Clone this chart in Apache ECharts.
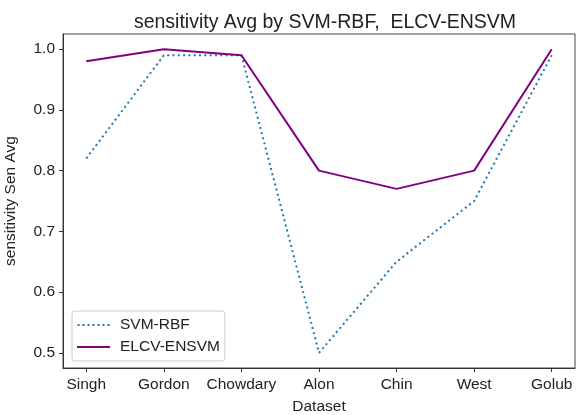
<!DOCTYPE html>
<html><head><meta charset="utf-8">
<script src="https://cdn.jsdelivr.net/npm/echarts@6/dist/echarts.min.js"></script>
<style>html,body{margin:0;padding:0;background:#fff}#c{width:576px;height:415px}</style>
</head><body><div id="c"></div>
<script>
const categories = ["Singh","Gordon","Chowdary","Alon","Chin","West","Golub"];
const svmRbf = [0.82, 0.99, 0.99, 0.50, 0.65, 0.75, 0.99];
const elcvEnsvm = [0.98, 1.00, 0.99, 0.80, 0.77, 0.80, 1.00];
const yTicks = [0.5, 0.6, 0.7, 0.8, 0.9, 1.0];
const xTicks = categories.map((_, i) => i);

const font = "Liberation Sans, Arial, sans-serif";
const dotted = 'path://M0,0h2v2h-2zM5,0h2v2h-2zM10,0h2v2h-2zM15,0h2v2h-2zM20,0h2v2h-2zM25,0h2v2h-2zM30,0h2v2h-2z';
const chart = echarts.init(document.getElementById('c'), null, {renderer:'canvas'});
chart.setOption({
  animation:false,
  title:{text:"sensitivity Avg by SVM-RBF,  ELCV-ENSVM", left:320, textAlign:'center', top:8,
    textStyle:{fontFamily:font, fontSize:19.5, fontWeight:'normal', color:'#222'}},
  grid:{left:63, right:1, top:34, bottom:47, show:true, borderColor:'#444', borderWidth:1,
    containLabel:false, outerBoundsMode:'none'},
  xAxis:{type:'value', min:-0.3, max:6.3, name:'Dataset', nameLocation:'middle', nameGap:31,
    nameTextStyle:{fontFamily:font, fontSize:15.5, color:'#222'},
    axisLine:{show:true, onZero:false, lineStyle:{color:'#333'}}, splitLine:{show:false},
    axisTick:{show:true, customValues:xTicks, length:4, lineStyle:{color:'#333'}},
    axisLabel:{customValues:xTicks, formatter:v=>categories[Math.round(v)], margin:9,
      fontFamily:font, fontSize:15.5, color:'#222'}},
  yAxis:{type:'value', min:0.475, max:1.025, name:'sensitivity Sen Avg', nameLocation:'middle', nameGap:44,
    nameTextStyle:{fontFamily:font, fontSize:15.5, color:'#222'},
    axisLine:{show:true, onZero:false, lineStyle:{color:'#333'}}, splitLine:{show:false},
    axisTick:{show:true, customValues:yTicks, length:4, lineStyle:{color:'#333'}},
    axisLabel:{customValues:yTicks, formatter:v=>v.toFixed(1), margin:8,
      fontFamily:font, fontSize:15.5, color:'#222'}},
  legend:{orient:'vertical', left:72, top:311, itemWidth:33, itemHeight:2, itemGap:6,
    padding:[6,5,6,5], borderColor:'#ccc', borderWidth:1, borderRadius:3,
    textStyle:{fontFamily:font, fontSize:15.5, color:'#222', padding:[0,0,0,5]},
    data:[{name:'SVM-RBF', icon:dotted},{name:'ELCV-ENSVM', icon:'rect'}]},
  series:[
    {name:'SVM-RBF', type:'line', data:svmRbf.map((v,i)=>[i,v]), showSymbol:false, symbol:'none',
      lineStyle:{color:'#1f77b4', width:2, type:[2,3.3]}, itemStyle:{color:'#1f77b4'}},
    {name:'ELCV-ENSVM', type:'line', data:elcvEnsvm.map((v,i)=>[i,v]), showSymbol:false, symbol:'none',
      lineStyle:{color:'#800080', width:2}, itemStyle:{color:'#800080'}}
  ]
});
</script></body></html>
